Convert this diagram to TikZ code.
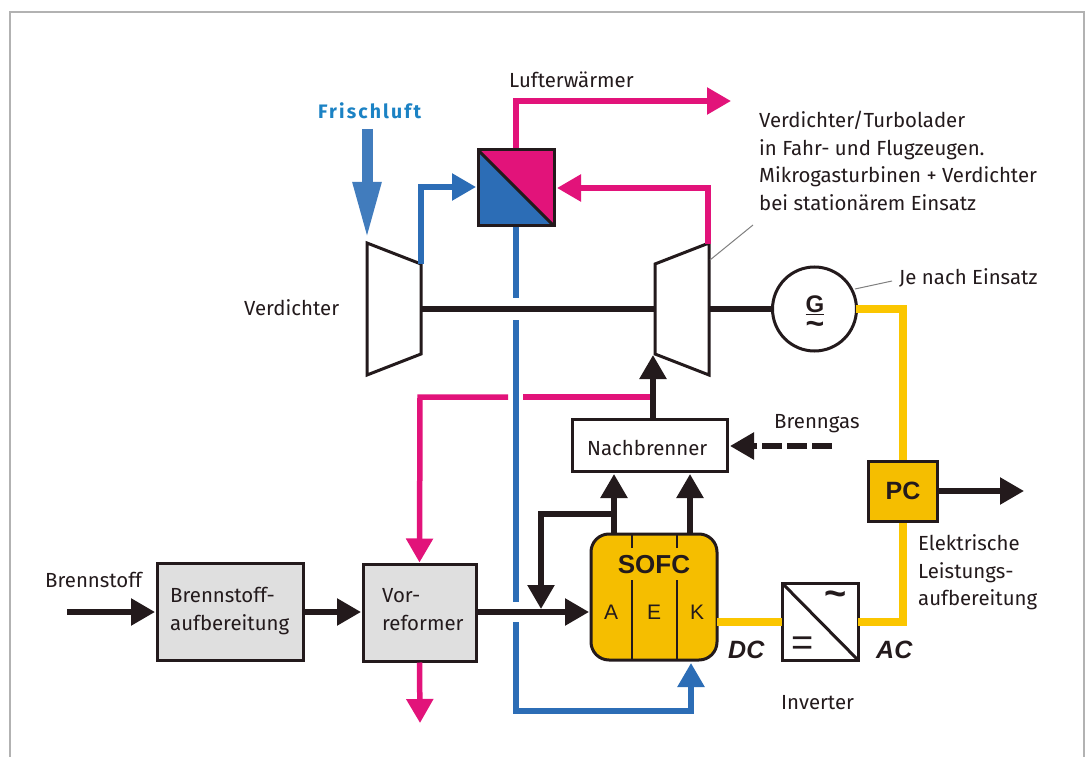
\documentclass[tikz,border=0pt]{standalone}
\usepackage{fontspec}
\setmainfont{Fira Sans}
\newfontfamily\arialf{Liberation Sans}
\usetikzlibrary{arrows.meta,calc}
\definecolor{ink}{HTML}{231A1C}
\definecolor{mag}{HTML}{E2137A}
\definecolor{blu}{HTML}{2C6DB6}
\definecolor{lbl}{HTML}{1B82C4}
\definecolor{yel}{HTML}{F5BE00}
\definecolor{yl2}{HTML}{FBC600}
\definecolor{gry}{HTML}{DFDFDF}
\tikzset{
  lab/.style={anchor=base west,inner sep=0pt,text=ink,font=\fontsize{20.4}{20.4}\selectfont},
  tip/.style={-{Triangle[length=24pt,width=26pt]}},
  conn/.style={line width=5.5pt,draw=ink,tip},
  magc/.style={line width=5.5pt,draw=mag},
  bluc/.style={line width=5.5pt,draw=blu},
  yelc/.style={line width=8pt,draw=yl2},
  leader/.style={line width=1pt,draw=black!50},
  boxn/.style={draw=ink,line width=3pt,rectangle,inner sep=0pt},
  ar/.style={font=\arialf\fontsize{#1}{#1}\selectfont,text=ink,inner sep=0pt},
}
\begin{document}
\begin{tikzpicture}[x=1pt,y=-1pt]
\useasboundingbox (0,0) rectangle (1088,757);
\fill[white] (0,0) rectangle (1088,757);
% frame
\coordinate (fa) at (10,757); \coordinate (fb) at (10,12); \coordinate (fc) at (1084,12); \coordinate (fd) at (1084,757);
\draw[line width=2pt,draw=black!30] (fa)--(fb)--(fc)--(fd);

% boxes
\node[boxn,fill=gry,minimum width=146pt,minimum height=97pt] (bsa) at (230,611.5) {};
\node[boxn,fill=gry,minimum width=113pt,minimum height=97pt] (vor) at (419.5,612.5) {};
\node[boxn,fill=white,minimum width=155pt,minimum height=52pt] (nb) at (649.5,445) {};
\node[boxn,fill=yel,rounded corners=18pt,minimum width=126pt,minimum height=126pt] (sofc) at (654,597) {};
\node[boxn,minimum width=76pt,minimum height=77pt,fill=white,
  path picture={\draw[ink,line width=3pt] (path picture bounding box.north west)--(path picture bounding box.south east);}] (inv) at (820,621.5) {};
\node[boxn,minimum width=76pt,minimum height=76pt,fill=blu,
  path picture={\fill[mag] (path picture bounding box.north west)--(path picture bounding box.north east)--(path picture bounding box.south east)--cycle;
  \draw[ink,line width=3pt] (path picture bounding box.north west)--(path picture bounding box.south east);}] (hx) at (516,188) {};
\node[draw=ink,line width=3pt,circle,minimum size=84pt,inner sep=0pt,fill=white] (gen) at (814.5,309) {};

% turbomachines
\coordinate (v1) at (367,243); \coordinate (v2) at (421,264); \coordinate (v3) at (421,354); \coordinate (v4) at (367,375);
\coordinate (t1) at (655,264); \coordinate (t2) at (709,243); \coordinate (t3) at (709,375); \coordinate (t4) at (655,354);
\draw[ink,line width=3pt,miter limit=4] (v1)--(v2)--(v3)--(v4)--cycle;
\draw[ink,line width=3pt,miter limit=4] (t1)--(t2)--(t3)--(t4)--cycle;

% shafts
\coordinate (s1) at (421,309); \coordinate (s2) at (655,309); \coordinate (s3) at (709,309);
\draw[ink,line width=6.5pt] (s1)--(s2);
\draw[ink,line width=6.5pt] (s3)--(gen.west);

% fresh air
\coordinate (fl0) at (367,129); \coordinate (fl1) at (367,240);
\draw[line width=11pt,draw=blu!90!white,-{Triangle[length=58pt,width=26pt]}] (fl0)--(fl1);

% blue
\coordinate (bA) at (421,187);
\coordinate (bB) at (516,298); \coordinate (bC) at (516,320); \coordinate (bD) at (516,602);
\coordinate (bE) at (516,622); \coordinate (bF) at (516,711); \coordinate (bG) at (691,711); \coordinate (bH) at (691,663);
\coordinate (bI) at (476,187);
\draw[bluc,tip,line join=miter] (v2)--(bA)--(bI);
\draw[bluc] (hx.south)--(bB);
\draw[bluc] (bC)--(bD);
\draw[bluc,tip] (bE)--(bF)--(bG)--(bH);

% magenta
\coordinate (mA) at (516,101); \coordinate (mB) at (731,101);
\coordinate (mC) at (708,188); \coordinate (mD) at (557,188); \coordinate (mE) at (708,244);
\draw[magc,tip] (hx.north)--(mA)--(mB);
\draw[magc,tip] (mE)--(mC)--(mD);
\coordinate (mF) at (653,397); \coordinate (mG) at (523,397); \coordinate (mH) at (508,397); \coordinate (mI) at (420,397);
\draw[magc] (mF)--(mG);
\draw[magc,tip] (mH)--(mI)--(vor.north);
\coordinate (mJ) at (420,723);
\draw[magc,tip] (vor.south)--(mJ);

% black flows
\coordinate (kA) at (67,612); \coordinate (kB) at (155,612);
\draw[conn] (kA)--(kB);
\coordinate (kC) at (361,612);
\draw[conn] (bsa.east |- kB)--(kC);
\coordinate (kD) at (589,612); \coordinate (kE) at (541,612);
\draw[conn] (vor.east |- kB)--(kD);
\coordinate (nA) at (653,355);
\draw[conn] (nb.north -| nA)--(nA);
\coordinate (sa) at (614,534); \coordinate (sb) at (690,534); \coordinate (na) at (614,474); \coordinate (nc) at (690,474);
\draw[conn] (sa)--(na);
\draw[conn] (sb)--(nc);
\coordinate (jA) at (614,514); \coordinate (jB) at (541,514); \coordinate (jC) at (541,609);
\draw[conn] (jA)--(jB)--(jC);
\coordinate (dA) at (832,446); \coordinate (dB) at (730,446);
\draw[conn,dash pattern=on 20pt off 5pt] (dA)--(dB);

% yellow
\coordinate (yA) at (717,622); \coordinate (yB) at (782,622);
\draw[yelc] (yA)--(yB);
\coordinate (yC) at (858,622); \coordinate (yD) at (903,622);
\coordinate (yE) at (903,521);
\draw[yelc,line join=miter] (yC)--(yD)--(yE);
\coordinate (yF) at (903,309); \coordinate (yG) at (903,461); \coordinate (yH) at (856,309);
\draw[yelc,line join=miter] (yH)--(yF)--(yG);
% PC drawn over the line ends
\node[boxn,fill=yel,minimum width=69pt,minimum height=60pt] (pc) at (902.5,491) {};
\coordinate (oA) at (1024,491);
\draw[conn] (pc.east)--(oA);

% SOFC dividers
\coordinate (d1a) at (632,534); \coordinate (d1b) at (632,548); \coordinate (d1c) at (632,580); \coordinate (d1d) at (632,660);
\coordinate (d2a) at (677,534); \coordinate (d2b) at (677,548); \coordinate (d2c) at (677,580); \coordinate (d2d) at (677,660);
\draw[ink,line width=2pt] (d1a)--(d1b) (d1c)--(d1d) (d2a)--(d2b) (d2c)--(d2d);

% leaders
\coordinate (lA) at (710,260); \coordinate (lB) at (753,225); \coordinate (lC) at (855,289); \coordinate (lD) at (892,281);
\draw[leader] (lA)--(lB);
\draw[leader] (lC)--(lD);

% labels
\node[lab,font=\bfseries\fontsize{19.5}{19.5}\selectfont,text=lbl] (tfl) at (318,119) {\addfontfeature{LetterSpace=11}Frischluft};
\node[lab] (tlu) at (509,88) {Lufterwärmer};
\node[lab] (tv1) at (759,128) {Verdichter/Turbolader};
\node[lab] (tv2) at (759,156) {in Fahr- und Flugzeugen.};
\node[lab] (tv3) at (759,183) {Mikrogasturbinen + Verdichter};
\node[lab] (tv4) at (759,211) {bei stationärem Einsatz};
\node[lab] (tje) at (899,284) {Je nach Einsatz};
\node[lab] (tve) at (244,315) {Verdichter};
\node[lab] (tbg) at (774,428) {Brenngas};
\node[lab] (tnb) at (587,455) {Nachbrenner};
\node[lab] (tbs) at (45,587) {Brennstoff};
\node[lab] (tb1) at (170,602) {Brennstoff-};
\node[lab] (tb2) at (170,630) {aufbereitung};
\node[lab] (tr1) at (382,602) {Vor-};
\node[lab] (tr2) at (382,630) {reformer};
\node[lab] (te1) at (918,550) {Elektrische};
\node[lab] (te2) at (918,578) {Leistungs-};
\node[lab] (te3) at (918,605) {aufbereitung};
\node[lab] (tin) at (781,709) {Inverter};

% Arial labels
\node[ar=26,font=\arialf\bfseries\fontsize{26}{26}\selectfont] (tso) at (654,565) {SOFC};
\node[ar=21] (ta) at (611,612) {A};
\node[ar=21] (te) at (654,612) {E};
\node[ar=21] (tk) at (697,612) {K};
\node[ar=24,font=\arialf\bfseries\fontsize{25}{25}\selectfont] (tpc) at (903,491) {PC};
\node[ar=24,font=\arialf\bfseries\itshape\fontsize{25}{25}\selectfont,anchor=base west] (tdc) at (728,658) {DC};
\node[ar=24,font=\arialf\bfseries\itshape\fontsize{25}{25}\selectfont,anchor=base west] (tac) at (876,658) {AC};
\node[ar=38,font=\arialf\bfseries\fontsize{38}{38}\selectfont] (tti) at (836,599) {\symbol{126}};
\node[ar=38] (teq) at (803,646) {=};
\node[ar=24,font=\arialf\bfseries\fontsize{24}{21}\selectfont,align=center,anchor=base] (tg) at (815,334) {\underline{G}\\{\fontsize{32}{21}\selectfont\symbol{126}}};
\end{tikzpicture}
\end{document}
